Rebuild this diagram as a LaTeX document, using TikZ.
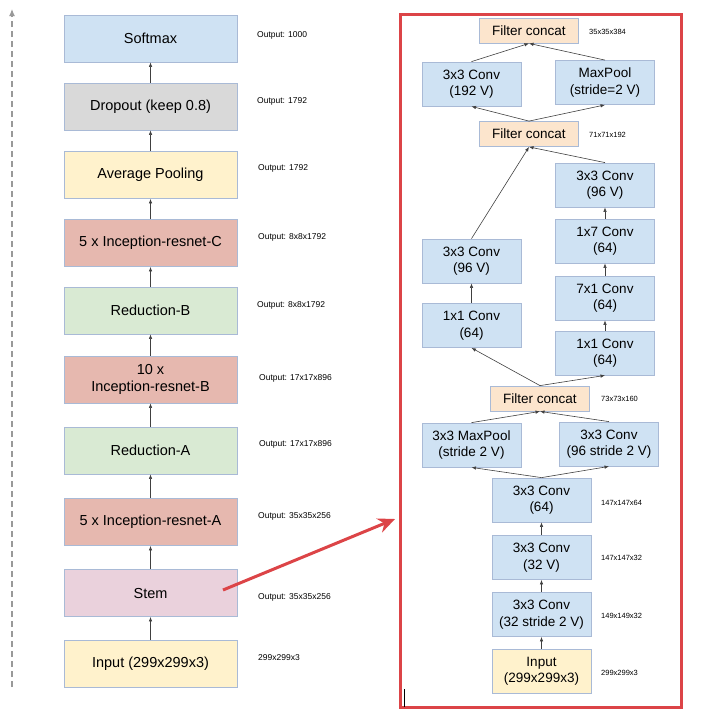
\documentclass[tikz,border=0pt]{standalone}
\usepackage{fontspec}
\setmainfont{Liberation Sans}
\usetikzlibrary{arrows.meta}
\definecolor{blk}{HTML}{CFE2F3}
\definecolor{gry}{HTML}{D9D9D9}
\definecolor{ylw}{HTML}{FFF2CC}
\definecolor{rdd}{HTML}{E6B8AF}
\definecolor{grn}{HTML}{D9EAD3}
\definecolor{pnk}{HTML}{EAD1DC}
\definecolor{pch}{HTML}{FCE5CD}
\definecolor{edge}{HTML}{A9BAD6}
\definecolor{frame}{HTML}{DC4447}
\begin{document}
\begin{tikzpicture}[x=1pt,y=-1pt,
    layer/.style={draw=edge,line width=0.8pt,minimum width=173pt,minimum height=47pt,inner sep=0pt,align=center,font=\fontsize{14.5}{17}\selectfont},
    op/.style={draw=edge,line width=0.8pt,minimum width=99pt,minimum height=44pt,inner sep=0pt,align=center,font=\fontsize{13.5}{16.5}\selectfont},
    cat/.style={op,fill=pch,minimum height=25pt},
    outlbl/.style={anchor=west,inner sep=0pt,font=\fontsize{8.5}{10}\selectfont},
    dimlbl/.style={anchor=west,inner sep=0pt,font=\fontsize{7.5}{9}\selectfont},
    conn/.style={draw=black!75,line width=0.6pt,-{Latex[length=4.5pt,width=3.5pt]}}]
  \useasboundingbox (0,0) rectangle (725,713);
  \draw[black!40,line width=1.1pt,dash pattern=on 6pt off 4pt,-{Latex[length=7pt,width=6pt]}] (12,687) -- (12,9);
  \node[layer,fill=blk] (soft) at (150.5,38.5) {Softmax};
  \node[layer,fill=gry] (drop) at (150.5,106.5) {Dropout (keep 0.8)};
  \node[layer,fill=ylw] (avgpool) at (150.5,175) {Average Pooling};
  \node[layer,fill=rdd] (incC) at (150.5,243) {5 x Inception-resnet-C};
  \node[layer,fill=grn] (redB) at (150.5,310.5) {Reduction-B};
  \node[layer,fill=rdd] (incB) at (150.5,379.5) {10 x\\Inception-resnet-B};
  \node[layer,fill=grn] (redA) at (150.5,450.5) {Reduction-A};
  \node[layer,fill=rdd] (incA) at (150.5,522) {5 x Inception-resnet-A};
  \node[layer,fill=pnk] (stem) at (150.5,593) {Stem};
  \node[layer,fill=ylw] (input) at (150.5,664) {Input (299x299x3)};
  \foreach \a/\b in {input/stem,stem/incA,incA/redA,redA/incB,incB/redB,redB/incC,incC/avgpool,avgpool/drop,drop/soft}
    \draw[conn] (\a) -- (\b);
  \node[outlbl] at (257,35) {Output: 1000};
  \node[outlbl] at (257,101) {Output: 1792};
  \node[outlbl] at (258,168) {Output: 1792};
  \node[outlbl] at (258,237) {Output: 8x8x1792};
  \node[outlbl] at (257,305) {Output: 8x8x1792};
  \node[outlbl] at (259,378) {Output: 17x17x896};
  \node[outlbl] at (259,444) {Output: 17x17x896};
  \node[outlbl] at (258,516) {Output: 35x35x256};
  \node[outlbl] at (258,597) {Output: 35x35x256};
  \node[outlbl] at (258,658) {299x299x3};
  \draw[frame,line width=3pt] (400,14) rectangle (681,707);
  \draw[black,line width=0.7pt] (404,689) -- (404,707);
  \node[cat] (catc) at (529,30.5) {Filter concat};
  \node[op,fill=blk] (c192) at (471.5,84) {3x3 Conv\\(192 V)};
  \node[op,fill=blk] (mpool) at (605,82.5) {MaxPool\\(stride=2 V)};
  \node[cat] (catb) at (529,134) {Filter concat};
  \node[op,fill=blk] (c96r) at (605,185) {3x3 Conv\\(96 V)};
  \node[op,fill=blk] (c17) at (605,241) {1x7 Conv\\(64)};
  \node[op,fill=blk] (c71) at (605,298) {7x1 Conv\\(64)};
  \node[op,fill=blk] (c11r) at (605,353) {1x1 Conv\\(64)};
  \node[op,fill=blk] (c96l) at (471.5,261) {3x3 Conv\\(96 V)};
  \node[op,fill=blk] (c11l) at (471.5,325.5) {1x1 Conv\\(64)};
  \node[cat] (cata) at (540,398.5) {Filter concat};
  \node[op,fill=blk] (mp2) at (471.5,445) {3x3 MaxPool\\(stride 2 V)};
  \node[op,fill=blk] (c96s) at (609,444) {3x3 Conv\\(96 stride 2 V)};
  \node[op,fill=blk] (c64) at (541.5,500) {3x3 Conv\\(64)};
  \node[op,fill=blk] (c32) at (541.5,557.5) {3x3 Conv\\(32 V)};
  \node[op,fill=blk] (c32s) at (541.5,614.5) {3x3 Conv\\(32 stride 2 V)};
  \node[op,fill=ylw] (inp) at (541.5,671) {Input\\(299x299x3)};
  \draw[conn] (c192.north) -- (catc.south);
  \draw[conn] (mpool.north) -- (catc.south);
  \draw[conn] (catb.north) -- (c192.south);
  \draw[conn] (catb.north) -- (mpool.south);
  \draw[conn] (c96l.north) -- (catb.south);
  \draw[conn] (c96r.north) -- (catb.south);
  \draw[conn] (c11l) -- (c96l);
  \draw[conn] (c11r) -- (c71);
  \draw[conn] (c71) -- (c17);
  \draw[conn] (c17) -- (c96r);
  \draw[conn] (cata.north) -- (c11l.south);
  \draw[conn] (cata.north) -- (c11r.south);
  \draw[conn] (mp2.north) -- (cata.south);
  \draw[conn] (c96s.north) -- (cata.south);
  \draw[conn] (c64.north) -- (mp2.south);
  \draw[conn] (c64.north) -- (c96s.south);
  \draw[conn] (c32) -- (c64);
  \draw[conn] (c32s) -- (c32);
  \draw[conn] (inp) -- (c32s);
  \node[dimlbl] at (589,32) {35x35x384};
  \node[dimlbl] at (589,135) {71x71x192};
  \node[dimlbl] at (601,399) {73x73x160};
  \node[dimlbl] at (601,503) {147x147x64};
  \node[dimlbl] at (601,558) {147x147x32};
  \node[dimlbl] at (601,616) {149x149x32};
  \node[dimlbl] at (601,673) {299x299x3};
  \coordinate (redtip) at (395,519);
  \draw[frame,line width=3pt,-{Stealth[length=17pt,width=15pt]}] ([xshift=72.5pt,yshift=3pt]stem.center) -- (redtip);
\end{tikzpicture}
\end{document}
